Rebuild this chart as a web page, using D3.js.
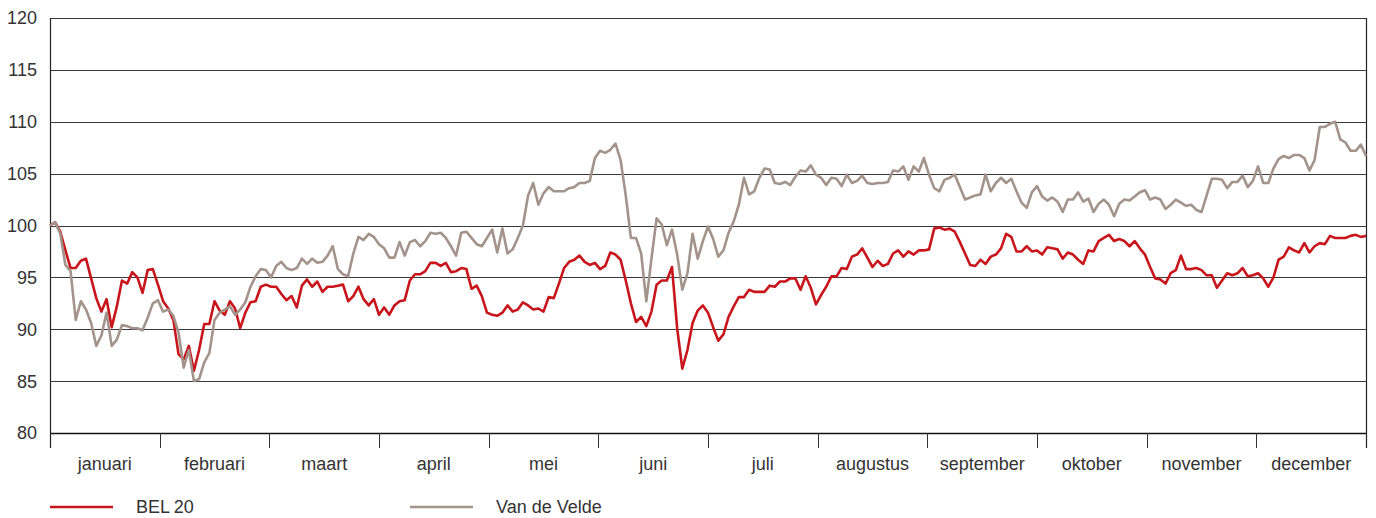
<!DOCTYPE html>
<html><head><meta charset="utf-8">
<script src="https://cdn.jsdelivr.net/npm/d3@7"></script>
<style>
body{margin:0;background:#fff}
svg text{font-family:"Liberation Sans",Arial,Helvetica,sans-serif;fill:#333}
</style>
</head><body>
<svg id="chart" width="1376" height="518"></svg>
<script>
const months = ["januari","februari","maart","april","mei","juni","juli","augustus","september","oktober","november","december"];
const yTicks = [80,85,90,95,100,105,110,115,120];
const seriesNames = ["BEL\u200920","Van de Velde"];

const bel20 = [
100,100.3,99.4,97.6,95.9,95.9,96.6,96.8,94.9,93,91.7,92.9,90.2,92.2,94.7,94.4,95.5,95,93.5,95.7,95.8,94.3,92.7,92,90.9,87.6,87.1,88.4,86,88,90.5,90.5,92.7,91.8,91.4,92.7,92,90.1,91.6,92.6,92.7,
94.1,94.3,94.1,94.1,93.4,92.8,93.2,92.1,94.2,94.8,94.1,94.6,93.6,94.1,94.1,94.2,94.3,92.7,93.2,94.1,92.9,92.3,92.9,91.4,92.1,91.4,92.3,92.7,92.8,94.7,95.3,95.3,95.6,96.4,96.4,96.1,96.4,95.5,95.6,95.9,95.8,93.9,94.2,
93.2,91.6,91.4,91.3,91.6,92.3,91.7,91.9,92.6,92.3,91.9,92,91.7,93.1,93,94.4,95.9,96.5,96.7,97.1,96.5,96.2,96.4,95.8,96.1,97.4,97.2,96.7,94.7,92.5,90.7,91.2,90.3,91.7,94.3,94.7,94.7,96,90.1,86.2,88,90.6,91.8,92.3,
91.6,90.2,88.9,89.5,91.2,92.2,93.1,93.1,93.8,93.6,93.6,93.6,94.2,94.1,94.6,94.6,94.9,94.9,93.8,95.1,94,92.4,93.3,94.1,95.1,95.1,95.9,95.8,97,97.2,97.8,96.9,96,96.6,96.1,96.3,97.3,97.6,97,97.5,97.2,97.6,97.6,
97.7,99.7,99.8,99.6,99.7,99.4,98.4,97.3,96.2,96.1,96.7,96.3,97,97.2,97.8,99.2,98.9,97.5,97.5,98,97.5,97.6,97.2,97.9,97.8,97.7,96.8,97.4,97.2,96.7,96.3,97.6,97.5,98.5,98.8,99.1,98.5,98.7,98.5,98,98.5,97.8,97.2,
96,94.9,94.8,94.4,95.4,95.7,97.1,95.8,95.8,95.9,95.7,95.2,95.2,94,94.7,95.4,95.2,95.4,95.9,95.1,95.2,95.4,94.9,94.1,95,96.7,97,97.9,97.6,97.4,98.3,97.4,98,98.3,98.2,99,98.8,98.8,98.8,99,99.1,98.9,99
];

const vanDeVelde = [
100,100.3,99.2,96.2,95.6,90.9,92.7,91.9,90.6,88.4,89.4,91.6,88.4,89,90.4,90.3,90.1,90.1,89.9,91.1,92.5,92.8,91.7,91.9,91.3,89.7,86.3,88,85,85.2,86.8,87.7,90.9,91.6,91.9,92.2,91.4,91.9,92.6,94.1,95.1,
95.8,95.7,95,96.1,96.5,95.9,95.7,95.9,96.8,96.3,96.8,96.4,96.5,97.1,98,95.8,95.3,95.1,97.3,98.9,98.6,99.2,98.9,98.2,97.8,96.9,96.9,98.4,97.1,98.4,98.6,98,98.5,99.3,99.2,99.3,98.8,98,97.1,99.3,99.4,98.8,98.2,
98,98.8,99.6,97.4,99.7,97.3,97.7,98.8,100,102.9,104.1,102,103.1,103.7,103.3,103.3,103.3,103.6,103.7,104.1,104.1,104.3,106.5,107.2,107,107.3,107.9,106.3,102.9,98.8,98.8,97.3,92.7,96.8,100.7,100.1,98.1,99.6,97.2,93.8,95.4,99.2,96.8,98.5,
99.9,98.7,97,97.6,99.3,100.4,102,104.6,103,103.3,104.6,105.5,105.4,104.1,104,104.2,103.9,104.7,105.3,105.2,105.8,104.9,104.6,103.9,104.6,104.5,103.8,104.9,104.1,104.3,104.8,104.1,104,104.1,104.1,104.2,105.3,105.2,105.7,104.4,105.7,105.2,106.5,
104.9,103.6,103.3,104.4,104.6,104.9,103.7,102.5,102.7,102.9,103,104.9,103.3,104.1,104.6,104.1,104.5,103.3,102.2,101.7,103.2,103.8,102.8,102.4,102.7,102.3,101.3,102.5,102.5,103.2,102.3,102.6,101.3,102.1,102.5,102,100.9,102.1,102.5,102.4,102.8,103.2,103.4,
102.5,102.7,102.5,101.6,102,102.5,102.2,101.9,102,101.5,101.3,102.9,104.5,104.5,104.4,103.6,104.2,104.2,104.8,103.7,104.3,105.7,104.1,104.1,105.5,106.4,106.7,106.5,106.8,106.8,106.5,105.3,106.3,109.5,109.5,109.8,110,108.3,108,107.2,107.2,107.8,106.7
];

const colors = ["#c8151b","#a3948b"];

const svg = d3.select("#chart");
const L = 50, R = 1366, T = 18, B = 433;

const y = d3.scaleLinear().domain([80,120]).range([B, T]);
const xBand = d3.scaleBand().domain(months).range([L, R]).padding(0);
const x = d3.scaleLinear().domain([0, bel20.length - 1]).range([L, R]);

// gridlines
svg.append("g").selectAll("line").data(yTicks.filter(d => d > 80)).join("line")
  .attr("x1", L).attr("x2", R)
  .attr("y1", d => Math.round(y(d)) + 0.5).attr("y2", d => Math.round(y(d)) + 0.5)
  .attr("stroke", "#3a3a3a").attr("stroke-width", 1);

// y labels
svg.append("g").selectAll("text").data(yTicks).join("text")
  .attr("x", 37).attr("y", d => y(d)).attr("dy", "0.36em")
  .attr("text-anchor", "end").attr("font-size", 18)
  .text(d => d);

// x axis baseline
svg.append("line").attr("x1", L).attr("x2", R).attr("y1", B + 0.5).attr("y2", B + 0.5)
  .attr("stroke", "#111").attr("stroke-width", 1.3);

// left and right borders
svg.append("line").attr("x1", L + 0.5).attr("x2", L + 0.5).attr("y1", T).attr("y2", 448)
  .attr("stroke", "#222").attr("stroke-width", 1.2);
svg.append("line").attr("x1", R + 0.5).attr("x2", R + 0.5).attr("y1", T).attr("y2", 448)
  .attr("stroke", "#222").attr("stroke-width", 1.2);

// month boundary ticks
const bounds = months.map(m => xBand(m)).slice(1);
svg.append("g").selectAll("line").data(bounds).join("line")
  .attr("x1", d => Math.round(d) + 0.5).attr("x2", d => Math.round(d) + 0.5)
  .attr("y1", B).attr("y2", 448)
  .attr("stroke", "#333").attr("stroke-width", 1);

// month labels
svg.append("g").selectAll("text").data(months).join("text")
  .attr("x", d => xBand(d) + xBand.bandwidth() / 2).attr("y", 470)
  .attr("text-anchor", "middle").attr("font-size", 18)
  .text(d => d);

// lines
const line = d3.line().x((d, i) => x(i)).y(d => y(d)).curve(d3.curveLinear);
svg.append("path").datum(bel20).attr("d", line)
  .attr("fill", "none").attr("stroke", colors[0]).attr("stroke-width", 2.6).attr("stroke-linejoin", "round");
svg.append("path").datum(vanDeVelde).attr("d", line)
  .attr("fill", "none").attr("stroke", colors[1]).attr("stroke-width", 2.6).attr("stroke-linejoin", "round");

// legend
const legendX = [50, 410];
const lg = svg.append("g").selectAll("g").data(seriesNames).join("g");
lg.append("line")
  .attr("x1", (d, i) => legendX[i]).attr("x2", (d, i) => legendX[i] + 63)
  .attr("y1", 507).attr("y2", 507)
  .attr("stroke", (d, i) => colors[i]).attr("stroke-width", 2.6);
lg.append("text")
  .attr("x", (d, i) => legendX[i] + 86).attr("y", 513)
  .attr("font-size", 18)
  .text(d => d);
</script>
</body></html>
